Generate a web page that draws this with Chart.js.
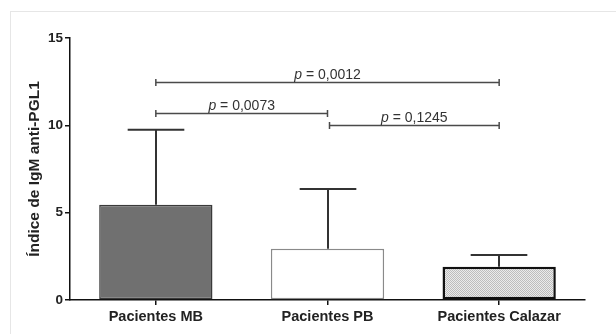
<!DOCTYPE html>
<html>
<head>
<meta charset="utf-8">
<script src="https://cdn.jsdelivr.net/npm/chart.js@4/dist/chart.umd.min.js"></script>
<style>
  html, body { margin: 0; padding: 0; background: #ffffff; }
  #wrap { width: 616px; height: 334px; position: relative; }
</style>
</head>
<body>
<div id="wrap"><canvas id="c" width="616" height="334"></canvas></div>
<script>
// ---- data ----
const categories = ['Pacientes MB', 'Pacientes PB', 'Pacientes Calazar'];
const means = [5.45, 2.93, 1.9];
const upperErrors = [4.3, 3.42, 0.67];
const yTickValues = [0, 5, 10, 15];
const compareFrom = [0, 0, 1];
const compareTo = [2, 1, 2];
const compareLevels = [12.5, 10.7, 10.0];
const comparePValues = ['0,0012', '0,0073', '0,1245'];
const yTitle = 'Índice de IgM anti-PGL1';

const FONT = "'Liberation Sans', Arial, sans-serif";

// crosshatch pattern for the third bar
function makePattern() {
  const p = document.createElement('canvas');
  p.width = 2; p.height = 2;
  const g = p.getContext('2d');
  g.fillStyle = '#ebebeb'; g.fillRect(0, 0, 2, 2);
  g.fillStyle = '#bdbdbd'; g.fillRect(0, 0, 1, 1); g.fillRect(1, 1, 1, 1);
  return document.getElementById('c').getContext('2d').createPattern(p, 'repeat');
}

const framePlugin = {
  id: 'frame',
  beforeDraw(chart) {
    const ctx = chart.ctx;
    ctx.save();
    ctx.fillStyle = '#ffffff';
    ctx.fillRect(0, 0, chart.width, chart.height);
    ctx.strokeStyle = '#e6e6e6';
    ctx.lineWidth = 1;
    ctx.strokeRect(10.5, 11.5, 800, 500);
    ctx.restore();
  }
};

const annotPlugin = {
  id: 'annot',
  afterDatasetsDraw(chart) {
    const ctx = chart.ctx;
    const xs = chart.scales.x, ys = chart.scales.y;
    const meta = chart.getDatasetMeta(0);
    ctx.save();
    // error bars
    ctx.strokeStyle = '#333333';
    ctx.lineWidth = 2;
    meta.data.forEach((bar, i) => {
      const x = Math.round(bar.x);
      const y0 = ys.getPixelForValue(means[i]);
      const y1 = ys.getPixelForValue(means[i] + upperErrors[i]);
      const half = bar.width * 0.25;
      ctx.beginPath();
      ctx.moveTo(x, y0); ctx.lineTo(x, y1);
      ctx.moveTo(x - half, y1); ctx.lineTo(x + half, y1);
      ctx.stroke();
    });
    // significance brackets
    for (let k = 0; k < compareLevels.length; k++) {
      const xa = xs.getPixelForValue(compareFrom[k]) + (k === 2 ? 2 : 0);
      const xb = xs.getPixelForValue(compareTo[k]);
      const y = Math.round(ys.getPixelForValue(compareLevels[k])) + 0.5;
      ctx.strokeStyle = '#4a4a4a';
      ctx.lineWidth = 1.5;
      ctx.beginPath();
      ctx.moveTo(xa, y); ctx.lineTo(xb, y);
      ctx.moveTo(xa, y - 3.5); ctx.lineTo(xa, y + 3.5);
      ctx.moveTo(xb, y - 3.5); ctx.lineTo(xb, y + 3.5);
      ctx.stroke();
      // label: italic p + regular rest
      const pPart = 'p';
      const rest = ' = ' + comparePValues[k];
      const fItal = 'italic 14px ' + FONT;
      const fReg = '14px ' + FONT;
      ctx.font = fItal; const wp = ctx.measureText(pPart).width;
      ctx.font = fReg; const wr = ctx.measureText(rest).width;
      const cx = (xa + xb) / 2;
      const tx = cx - (wp + wr) / 2;
      ctx.fillStyle = '#333333';
      ctx.textBaseline = 'alphabetic';
      ctx.textAlign = 'left';
      ctx.font = fItal; ctx.fillText(pPart, tx, y - 3.5);
      ctx.font = fReg; ctx.fillText(rest, tx + wp, y - 3.5);
    }
    ctx.restore();
  }
};

const chart = new Chart(document.getElementById('c'), {
  type: 'bar',
  data: {
    labels: categories,
    datasets: [{
      data: means,
      backgroundColor: ['#707070', '#ffffff', makePattern()],
      borderColor: ['#3a3a3a', '#8a8a8a', '#111111'],
      borderWidth: [1.5, 1.5, 2.5],
      borderSkipped: false,
      barPercentage: 0.66,
      categoryPercentage: 1.0
    }]
  },
  options: {
    responsive: false,
    animation: false,
    devicePixelRatio: 1,
    layout: { padding: { top: 38, right: 31, bottom: 0, left: 0 } },
    plugins: { legend: { display: false }, tooltip: { enabled: false } },
    scales: {
      x: {
        afterFit(s) { s.height = 34; },
        grid: { display: true, drawOnChartArea: false, drawTicks: true, tickLength: 5, offset: false, color: '#111111', lineWidth: 1.5 },
        border: { display: true, color: '#111111', width: 1.5 },
        ticks: { color: '#222222', font: { family: FONT, size: 14.5, weight: 'bold' }, padding: 3 }
      },
      y: {
        min: 0, max: 15,
        afterFit(s) { s.width = 70; },
        afterBuildTicks(s) { s.ticks = yTickValues.map(v => ({ value: v })); },
        grid: { display: true, drawOnChartArea: false, drawTicks: true, tickLength: 5, color: '#111111', lineWidth: 1.5 },
        border: { display: true, color: '#111111', width: 1.5 },
        ticks: { color: '#222222', font: { family: FONT, size: 13.5, weight: 'bold' }, padding: 2 },
        title: {
          display: true, text: yTitle, color: '#222222',
          font: { family: FONT, size: 15.5, weight: 'bold' },
          padding: { top: 25, bottom: 0 }
        }
      }
    }
  },
  plugins: [framePlugin, annotPlugin]
});
</script>
</body>
</html>
